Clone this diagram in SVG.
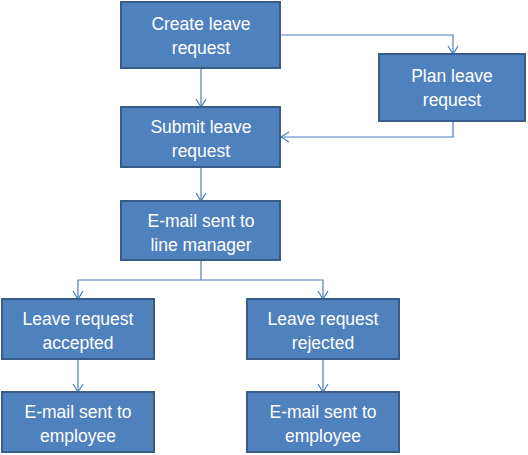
<svg xmlns="http://www.w3.org/2000/svg" width="528" height="455" viewBox="0 0 528 455">
<style>
.box{fill:#4F81BD;stroke:#385D8A;stroke-width:2}
.t{font-family:"Liberation Sans",Arial,sans-serif;font-size:17.5px;fill:#fff;text-anchor:middle}
.c{fill:none;stroke:#4A7EBB;stroke-width:1.2}
</style>
<defs>
<marker id="a" markerWidth="12" markerHeight="12" refX="10" refY="6" orient="auto" markerUnits="userSpaceOnUse">
<path d="M2,1 L10,6 L2,11" fill="none" stroke="#4A7EBB" stroke-width="1.2"/>
</marker>
</defs>
<g id="connectors">
<path class="c" d="M201,68 V107" marker-end="url(#a)"/>
<path class="c" d="M280,35 H453 V54" marker-end="url(#a)"/>
<path class="c" d="M453,121 V137 H281" marker-end="url(#a)"/>
<path class="c" d="M201,167 V201" marker-end="url(#a)"/>
<path class="c" d="M201,260 V280 H78 V299" marker-end="url(#a)"/>
<path class="c" d="M201,280 H323 V299" marker-end="url(#a)"/>
<path class="c" d="M78,359 V392" marker-end="url(#a)"/>
<path class="c" d="M323,359 V392" marker-end="url(#a)"/>
</g>
<g id="create"><rect class="box" x="121" y="2" width="159" height="66"/><text class="t" x="201" y="30">Create leave</text><text class="t" x="201" y="54">request</text></g>
<g id="plan"><rect class="box" x="379" y="54" width="146" height="67"/><text class="t" x="452" y="82">Plan leave</text><text class="t" x="452" y="106">request</text></g>
<g id="submit"><rect class="box" x="121" y="107" width="159" height="60"/><text class="t" x="201" y="133">Submit leave</text><text class="t" x="201" y="157">request</text></g>
<g id="linemanager"><rect class="box" x="121" y="201" width="159" height="59"/><text class="t" x="201" y="227">E-mail sent to</text><text class="t" x="201" y="251">line manager</text></g>
<g id="accepted"><rect class="box" x="2" y="299" width="152" height="60"/><text class="t" x="78" y="325">Leave request</text><text class="t" x="78" y="349">accepted</text></g>
<g id="rejected"><rect class="box" x="247" y="299" width="152" height="60"/><text class="t" x="323" y="325">Leave request</text><text class="t" x="323" y="349">rejected</text></g>
<g id="emp1"><rect class="box" x="2" y="392" width="152" height="60"/><text class="t" x="78" y="418">E-mail sent to</text><text class="t" x="78" y="442">employee</text></g>
<g id="emp2"><rect class="box" x="247" y="392" width="152" height="60"/><text class="t" x="323" y="418">E-mail sent to</text><text class="t" x="323" y="442">employee</text></g>
</svg>
